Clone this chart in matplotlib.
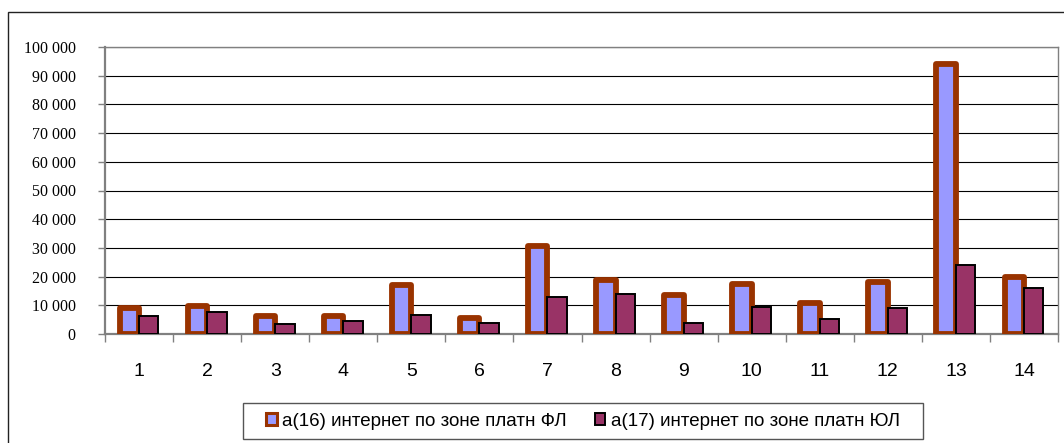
import matplotlib
matplotlib.use("Agg")
import matplotlib.pyplot as plt
from matplotlib.patches import Patch, Rectangle
import numpy as np

# Data
categories = ["1", "2", "3", "4", "5", "6", "7", "8", "9", "10", "11", "12", "13", "14"]
series_names = ["a(16) интернет по зоне платн ФЛ", "a(17) интернет по зоне платн ЮЛ"]
fl_values = [9100, 9700, 6400, 6400, 17000, 5700, 30800, 18900, 13500, 17400, 10900, 18100, 94100, 19700]
jl_values = [6100, 7600, 3400, 4600, 6500, 4000, 13000, 14100, 4000, 9500, 5100, 9100, 24200, 16100]
y_ticks = [0, 10000, 20000, 30000, 40000, 50000, 60000, 70000, 80000, 90000, 100000]
y_tick_labels = ["0", "10 000", "20 000", "30 000", "40 000", "50 000", "60 000",
                 "70 000", "80 000", "90 000", "100 000"]

W, H = 1064, 443
fig = plt.figure(figsize=(W / 100, H / 100), dpi=100)
fig.patch.set_facecolor("white")

ax = fig.add_axes([105 / W, (H - 334) / H, (1058 - 105) / W, (334 - 47) / H])

x = np.arange(1, len(categories) + 1)
bw = 1 / 3.5
fl_color, fl_edge = "#9999FF", "#993300"
jl_color, jl_edge = "#993366", "#000000"

ax.bar(x - bw / 2, fl_values, bw, color=fl_color, edgecolor=fl_edge,
       linewidth=4.2, joinstyle="round", zorder=3)
ax.bar(x + bw / 2, jl_values, bw, color=jl_color, edgecolor=jl_edge,
       linewidth=1.4, zorder=4)

ax.set_xlim(0.5, len(categories) + 0.5)
ax.set_ylim(0, 100000)

# Y axis
ax.set_yticks(y_ticks)
ax.set_yticklabels(y_tick_labels, family="Liberation Serif", fontsize=11.5)
ax.tick_params(axis="y", length=5, width=1, color="#808080", pad=16)
ax.yaxis.grid(True, color="black", linewidth=0.8)
ax.set_axisbelow(True)

# X axis: labels centred on categories, ticks on category boundaries
ax.set_xticks(x)
ax.set_xticklabels(categories, family="Liberation Sans", fontsize=14)
ax.tick_params(axis="x", which="major", length=0, pad=21)
ax.set_xticks(np.arange(0.5, len(categories) + 1), minor=True)
ax.tick_params(axis="x", which="minor", length=6, width=1, color="#808080", direction="out")

for side in ("left", "bottom"):
    ax.spines[side].set_color("#808080")
    ax.spines[side].set_linewidth(1.6)
for side in ("top", "right"):
    ax.spines[side].set_color("#808080")
    ax.spines[side].set_linewidth(1.0)

# Legend
handles = [
    Patch(facecolor=fl_color, edgecolor=fl_edge, linewidth=2.2),
    Patch(facecolor=jl_color, edgecolor=jl_edge, linewidth=1.4),
]
fig.legend(handles, series_names, loc="center", bbox_to_anchor=(583 / W, 1 - 421 / H),
           ncol=2, frameon=False, prop={"family": "Liberation Sans", "size": 13.5},
           handlelength=0.55, handleheight=0.55, handletextpad=0.3,
           columnspacing=1.5, borderaxespad=0, borderpad=0)
fig.add_artist(Rectangle((243 / W, 1 - 439 / H), (923 - 243) / W, 36 / H,
                         transform=fig.transFigure, fill=False,
                         edgecolor="#555555", linewidth=1))

# Chart frame
fig.add_artist(Rectangle((8 / W, -0.1), 1.2, 1 - 12 / H + 0.1,
                         transform=fig.transFigure, fill=False,
                         edgecolor="#222222", linewidth=1))

fig.savefig("out.png", dpi=100)
